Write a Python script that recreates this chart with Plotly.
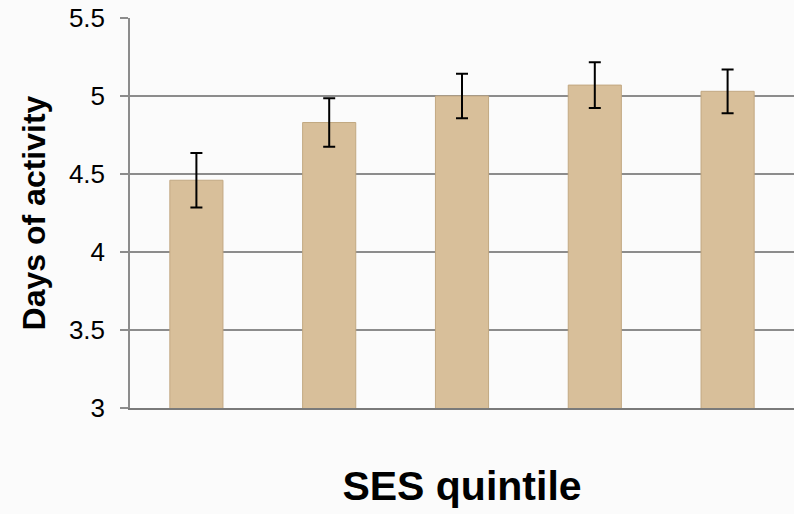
import plotly.graph_objects as go

categories = ["Q1", "Q2", "Q3", "Q4", "Q5"]
values = [4.46, 4.83, 5.00, 5.07, 5.03]
errors = [0.175, 0.155, 0.143, 0.147, 0.14]
y_ticks = [3, 3.5, 4, 4.5, 5, 5.5]
y_ticktext = ["3", "3.5", "4", "4.5", "5", "5.5"]

fig = go.Figure()
fig.add_trace(go.Bar(
    x=categories, y=values,
    marker=dict(color="#D8BF9A", line=dict(color="#C2A882", width=1)),
    width=0.4,
    error_y=dict(type="data", array=errors, visible=True, color="black", thickness=2, width=6),
))

fig.update_layout(
    width=794, height=514,
    margin=dict(l=130, r=0, t=18, b=106),
    paper_bgcolor="#fbfbfb",
    plot_bgcolor="rgba(0,0,0,0)",
    showlegend=False,
    font=dict(family="Arial, Liberation Sans, sans-serif", color="black"),
)
fig.update_xaxes(
    showticklabels=False, showgrid=False,
    showline=True, linecolor="#7a7a7a", linewidth=2,
    ticks="",
    title=dict(text="<b>SES quintile</b>", font=dict(size=41), standoff=62),
)
fig.update_yaxes(
    range=[3, 5.5], tickvals=y_ticks, ticktext=y_ticktext,
    showgrid=True, gridcolor="#8c8c8c", gridwidth=1.5,
    showline=True, linecolor="#8c8c8c", linewidth=1.5,
    ticks="outside", ticklen=8, tickcolor="#8c8c8c", tickwidth=1.5,
    tickfont=dict(size=26),
    ticklabelstandoff=10,
    zeroline=False,
    title=dict(text="<b>Days of activity</b>", font=dict(size=32), standoff=14),
)

fig.write_html("out.html", config={"displayModeBar": False},
               post_script="document.body.style.margin='0px';")
